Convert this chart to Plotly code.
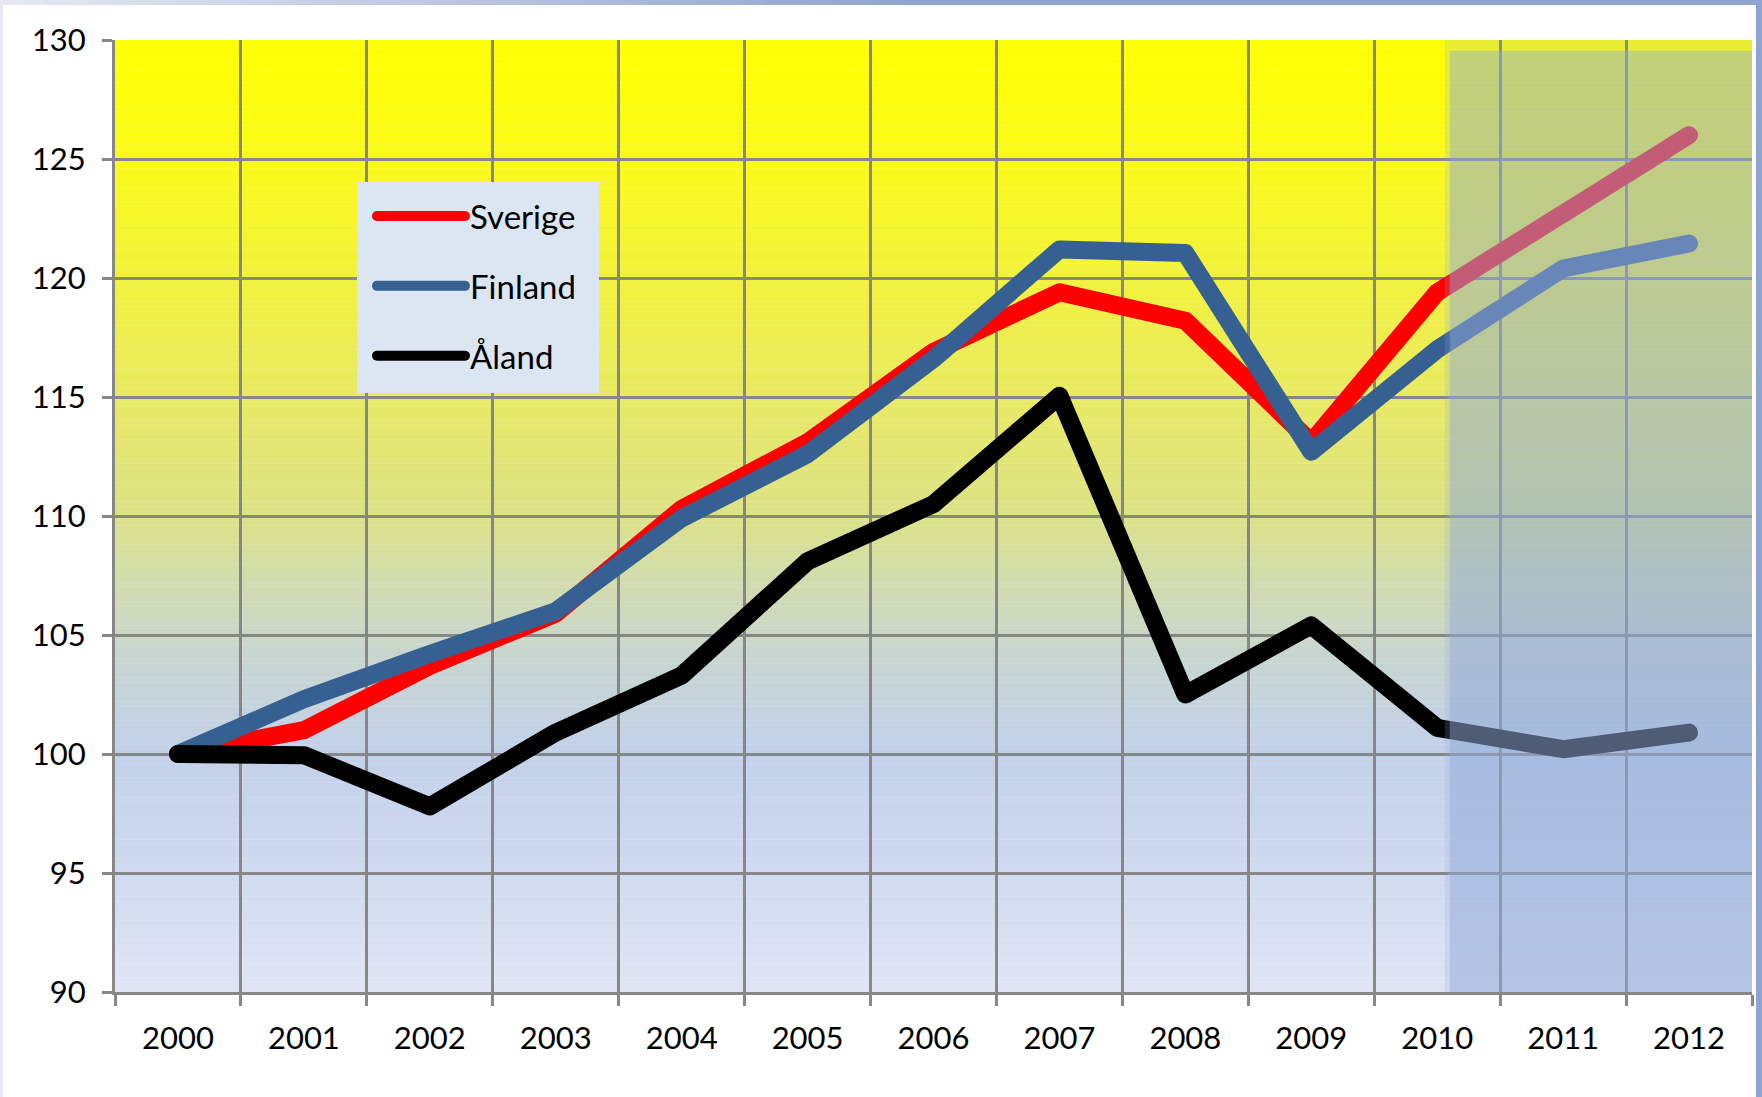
import plotly.graph_objects as go

# ---------------- data ----------------
years = [str(y) for y in range(2000, 2013)]
sverige = [100.0, 101.0, 103.7, 105.9, 110.3, 113.1, 116.9, 119.4, 118.2, 113.1, 119.4, 122.8, 126.0]
finland = [100.0, 102.3, 104.2, 106.0, 109.9, 112.6, 116.6, 121.2, 121.05, 112.7, 117.0, 120.4, 121.45]
aland = [100.0, 99.95, 97.8, 100.9, 103.3, 108.1, 110.5, 115.05, 102.5, 105.4, 101.1, 100.2, 100.9]
series_names = ["Sverige", "Finland", "Åland"]
series_colors = ["#FF0000", "#376092", "#000000"]
y_ticks = [90, 95, 100, 105, 110, 115, 120, 125, 130]
forecast_start = "2010"

# ---------------- layout geometry ----------------
W, H = 1762, 1097
L, R, T, B = 115, 10, 40, 105
PW, PH = W - L - R, H - T - B


def px_x(px):
    return (px - L) / PW


def px_y(py):
    return (H - B - py) / PH


FONT = "Lato, 'Open Sans', sans-serif"
GRID = "#878787"

fig = go.Figure()
for name, vals, col in zip(series_names, [sverige, finland, aland], series_colors):
    fig.add_trace(go.Scatter(
        x=years, y=vals, name=name, mode="lines",
        line=dict(color=col, width=18),
        legendgroup=name,
    ))

shapes = []

# plot-area vertical gradient (yellow at top -> light blue at bottom)
stops = [
    (0.00, (255, 255, 0)),
    (0.125, (250, 250, 25)),
    (0.25, (242, 242, 60)),
    (0.375, (232, 234, 98)),
    (0.50, (220, 226, 135)),
    (0.57, (209, 220, 175)),
    (0.65, (200, 213, 208)),
    (0.74, (194, 209, 232)),
    (0.85, (205, 216, 239)),
    (1.00, (223, 229, 244)),
]


def grad(f):
    for (f0, c0), (f1, c1) in zip(stops[:-1], stops[1:]):
        if f0 <= f <= f1:
            t = (f - f0) / (f1 - f0)
            return tuple(round(a + (b - a) * t) for a, b in zip(c0, c1))
    return stops[-1][1]


ymin, ymax = y_ticks[0], y_ticks[-1]
N = 200
step = (ymax - ymin) / N
for i in range(N):
    y0 = ymin + i * step
    y1 = y0 + step
    f = (ymax - (y0 + y1) / 2) / (ymax - ymin)
    c = grad(f)
    shapes.append(dict(type="rect", xref="paper", yref="y", x0=0, x1=1, y0=y0, y1=y1 + step * 0.05,
                       fillcolor=f"rgb{c}", line=dict(width=0), layer="below"))

# forecast overlay (two stacked translucent rectangles)
fi = years.index(forecast_start)
shapes.append(dict(type="rect", xref="x", yref="y", x0=fi + 0.06, x1=len(years) - 0.5,
                   y0=ymin - 0.42, y1=ymax + 0.05,
                   fillcolor="rgba(140,170,220,0.2)", line=dict(width=0), layer="above"))
shapes.append(dict(type="rect", xref="x", yref="y", x0=fi + 0.1, x1=len(years) - 0.46,
                   y0=ymin, y1=ymax - 0.45,
                   fillcolor="rgba(145,170,215,0.43)", line=dict(width=0), layer="above"))

# legend box
shapes.append(dict(type="rect", xref="paper", yref="paper", x0=px_x(357), x1=px_x(599),
                   y0=px_y(393), y1=px_y(182), fillcolor="#DCE6F2", line=dict(width=0), layer="above"))

# outer frame: top gradient bar, left strip, right bar
c_left, c_right = (230, 232, 242), (143, 164, 208)
segs = 40
for i in range(segs):
    x0 = i * 900 / segs
    x1 = (i + 1) * 900 / segs + 1
    t = (i + 0.5) / segs
    c = tuple(round(a + (b - a) * t) for a, b in zip(c_left, c_right))
    shapes.append(dict(type="rect", xref="paper", yref="paper", x0=px_x(x0), x1=px_x(x1),
                       y0=px_y(5), y1=px_y(0), fillcolor=f"rgb{c}", line=dict(width=0), layer="above"))
shapes.append(dict(type="rect", xref="paper", yref="paper", x0=px_x(900), x1=px_x(W),
                   y0=px_y(5), y1=px_y(0), fillcolor=f"rgb{c_right}", line=dict(width=0), layer="above"))
shapes.append(dict(type="rect", xref="paper", yref="paper", x0=px_x(0), x1=px_x(3),
                   y0=px_y(H), y1=px_y(0), fillcolor=f"rgb{c_left}", line=dict(width=0), layer="above"))
shapes.append(dict(type="rect", xref="paper", yref="paper", x0=px_x(W - 6), x1=px_x(W),
                   y0=px_y(H), y1=px_y(0), fillcolor=f"rgb{c_right}", line=dict(width=0), layer="above"))

fig.update_layout(
    width=W, height=H,
    margin=dict(l=L, r=R, t=T, b=B, pad=0),
    paper_bgcolor="white",
    plot_bgcolor="white",
    font=dict(family=FONT, size=30, color="black"),
    shapes=shapes,
    showlegend=True,
    legend=dict(
        x=px_x(372), y=px_y(188), xanchor="left", yanchor="top",
        bgcolor="rgba(0,0,0,0)", borderwidth=0,
        font=dict(family=FONT, size=33, color="black"),
        itemwidth=88, tracegroupgap=24,
        itemclick=False,
    ),
    xaxis=dict(
        type="category", categoryorder="array", categoryarray=years,
        range=[-0.5, len(years) - 0.5],
        tickson="boundaries",
        showgrid=True, gridcolor=GRID, gridwidth=3,
        showline=True, linecolor=GRID, linewidth=3,
        ticks="outside", ticklen=11, tickwidth=3, tickcolor=GRID,
        ticklabelstandoff=17,
        tickfont=dict(family=FONT, size=31, color="black"),
        zeroline=False, fixedrange=True,
    ),
    yaxis=dict(
        range=[ymin, ymax],
        tickvals=y_ticks,
        showgrid=True, gridcolor=GRID, gridwidth=3,
        showline=True, linecolor=GRID, linewidth=3,
        ticks="outside", ticklen=10, tickwidth=3, tickcolor=GRID,
        ticklabelstandoff=10,
        tickfont=dict(family=FONT, size=31, color="black"),
        zeroline=False, fixedrange=True,
    ),
)

post = """
var s = document.createElement('style');
s.innerHTML = 'body{margin:0;overflow:hidden} .js-line{stroke-linecap:round !important; stroke-linejoin:round !important}';
document.head.appendChild(s);
"""
fig.write_html("out.html", post_script=post, config={"displayModeBar": False})
